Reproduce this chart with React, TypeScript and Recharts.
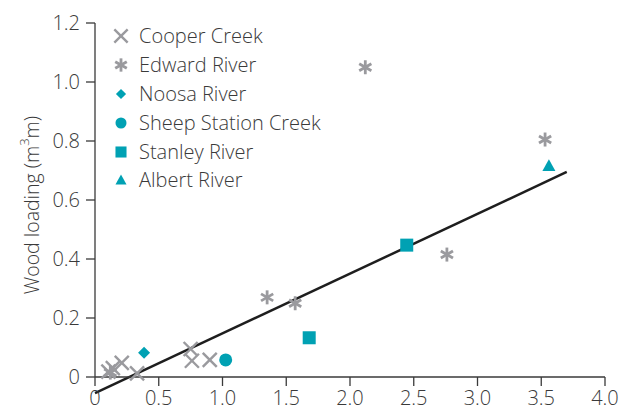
import { ScatterChart, Scatter, XAxis, YAxis, ReferenceLine } from 'recharts';

const cooperX = [0.105, 0.14, 0.21, 0.33, 0.75, 0.76, 0.9];
const cooperY = [0.018, 0.03, 0.048, 0.012, 0.095, 0.055, 0.058];
const edwardX = [0.12, 1.35, 1.57, 2.12, 2.76, 3.53];
const edwardY = [0.015, 0.27, 0.25, 1.05, 0.415, 0.805];
const noosaX = [0.385];
const noosaY = [0.082];
const sheepX = [1.025];
const sheepY = [0.058];
const stanleyX = [1.68, 2.445];
const stanleyY = [0.133, 0.447];
const albertX = [3.56];
const albertY = [0.716];

const fitX = [0, 3.7];
const fitY = [-0.055, 0.695];

const xTicks = [0, 0.5, 1.0, 1.5, 2.0, 2.5, 3.0, 3.5, 4.0];
const yTicks = [0, 0.2, 0.4, 0.6, 0.8, 1.0, 1.2];

const GREY = '#9a9a9e';
const TEAL = '#00a1b3';
const INK = '#3a3a3a';
const FONT = '"Open Sans", sans-serif';

const pts = (xs: number[], ys: number[]) => xs.map((x, i) => ({ x, y: ys[i] }));

type Kind = 'cross' | 'star' | 'diamond' | 'circle' | 'square' | 'triangle';

const series: { name: string; kind: Kind; color: string; data: { x: number; y: number }[] }[] = [
  { name: 'Cooper Creek', kind: 'cross', color: GREY, data: pts(cooperX, cooperY) },
  { name: 'Edward River', kind: 'star', color: GREY, data: pts(edwardX, edwardY) },
  { name: 'Noosa River', kind: 'diamond', color: TEAL, data: pts(noosaX, noosaY) },
  { name: 'Sheep Station Creek', kind: 'circle', color: TEAL, data: pts(sheepX, sheepY) },
  { name: 'Stanley River', kind: 'square', color: TEAL, data: pts(stanleyX, stanleyY) },
  { name: 'Albert River', kind: 'triangle', color: TEAL, data: pts(albertX, albertY) },
];

const Marker = ({ kind, cx, cy, color, s = 1 }: { kind: Kind; cx: number; cy: number; color: string; s?: number }) => {
  switch (kind) {
    case 'cross': {
      const h = 7 * s;
      return (
        <g stroke={color} strokeWidth={2.4}>
          <line x1={cx - h} y1={cy - h} x2={cx + h} y2={cy + h} />
          <line x1={cx - h} y1={cy + h} x2={cx + h} y2={cy - h} />
        </g>
      );
    }
    case 'star': {
      const h = 7 * s;
      const dx = h * 0.87;
      const dy = h * 0.5;
      return (
        <g stroke={color} strokeWidth={2.8}>
          <line x1={cx} y1={cy - h} x2={cx} y2={cy + h} />
          <line x1={cx - dx} y1={cy - dy} x2={cx + dx} y2={cy + dy} />
          <line x1={cx - dx} y1={cy + dy} x2={cx + dx} y2={cy - dy} />
        </g>
      );
    }
    case 'diamond': {
      const h = 6 * s;
      return <polygon points={`${cx},${cy - h} ${cx + h},${cy} ${cx},${cy + h} ${cx - h},${cy}`} fill={color} />;
    }
    case 'circle':
      return <circle cx={cx} cy={cy} r={6.5 * s} fill={color} />;
    case 'square': {
      const h = 6.5 * s;
      return <rect x={cx - h} y={cy - h} width={2 * h} height={2 * h} fill={color} />;
    }
    case 'triangle': {
      const h = 6.5 * s;
      return <polygon points={`${cx},${cy - h} ${cx + h},${cy + h * 0.8} ${cx - h},${cy + h * 0.8}`} fill={color} />;
    }
  }
  return null;
};

const fmt = (v: number) => (v === 0 ? '0' : v.toFixed(1));

const YLabel = () => (
  <text
    transform="translate(31,205) rotate(-90)"
    textAnchor="middle"
    fill={INK}
    fontSize={19.5}
    fontWeight={300}
    fontFamily={FONT}
    dominantBaseline="central"
  >
    Wood loading (m
    <tspan fontSize={13} dy={-7}>3</tspan>
    <tspan dy={7}>m)</tspan>
  </text>
);

export default function App() {
  return (
    <div style={{ position: 'absolute', left: 0, top: 0, width: 637, height: 410, background: '#fff' }}>
      <ScatterChart width={637} height={410} margin={{ top: 23, right: 32, bottom: 0, left: 0 }}>
        <XAxis
          type="number"
          dataKey="x"
          domain={[0, 4]}
          ticks={xTicks}
          tickFormatter={fmt}
          height={33}
          tickSize={9}
          tickMargin={5}
          stroke={INK}
          strokeWidth={1.3}
          tick={{ fill: INK, fontSize: 20, fontWeight: 300, fontFamily: FONT }}
        />
        <YAxis
          type="number"
          dataKey="y"
          domain={[0, 1.2]}
          ticks={yTicks}
          tickFormatter={fmt}
          width={95}
          tickSize={9}
          tickMargin={6}
          stroke={INK}
          strokeWidth={1.3}
          tick={{ fill: INK, fontSize: 20, fontWeight: 300, fontFamily: FONT }}
          label={<YLabel />}
        />
        <ReferenceLine
          segment={[
            { x: fitX[0], y: fitY[0] },
            { x: fitX[1], y: fitY[1] },
          ]}
          stroke="#1e1e1e"
          strokeWidth={2.5}
          ifOverflow="visible"
        />
        {series.map((s) => (
          <Scatter
            key={s.name}
            name={s.name}
            data={s.data}
            isAnimationActive={false}
            shape={(p: any) => <Marker kind={s.kind} cx={p.cx} cy={p.cy} color={s.color} />}
          />
        ))}
      </ScatterChart>
      <div style={{ position: 'absolute', left: 110, top: 22, fontFamily: FONT, fontSize: 20, fontWeight: 300, color: INK }}>
        {series.map((s) => (
          <div key={s.name} style={{ display: 'flex', alignItems: 'center', height: 28.8 }}>
            <svg width={22} height={20} style={{ marginRight: 7 }}>
              <Marker kind={s.kind} cx={11} cy={10} color={s.color} s={s.kind === 'cross' || s.kind === 'star' ? 0.95 : 0.85} />
            </svg>
            <span style={{ whiteSpace: 'nowrap', lineHeight: '20px' }}>{s.name}</span>
          </div>
        ))}
      </div>
    </div>
  );
}
